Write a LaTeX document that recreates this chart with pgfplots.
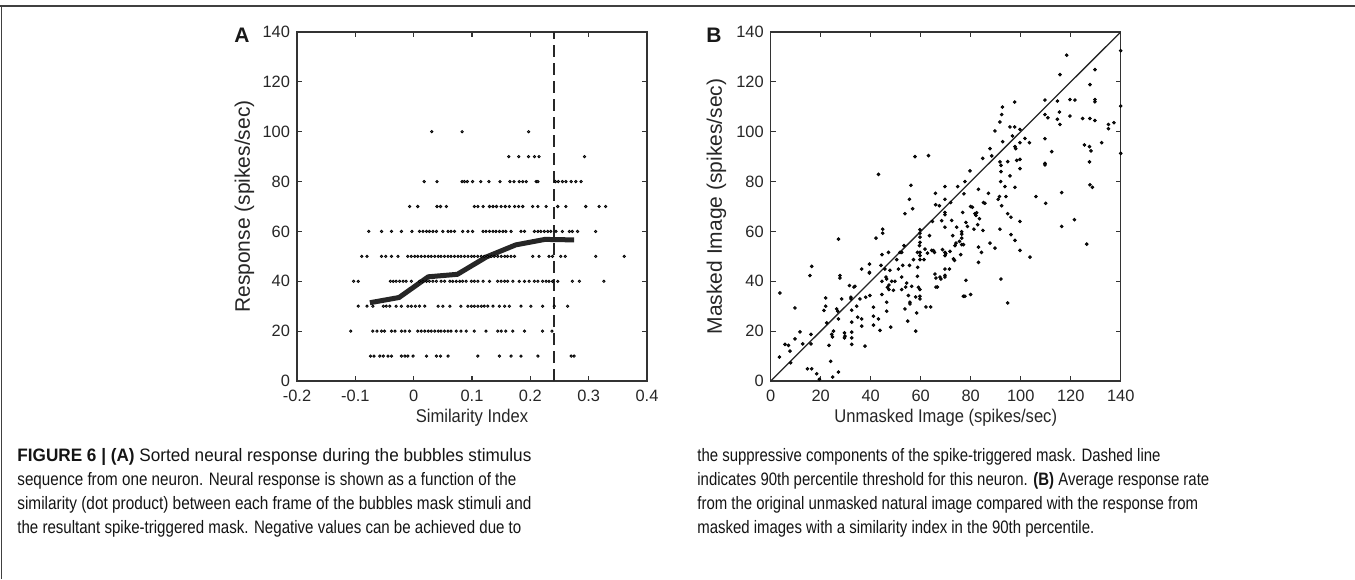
\documentclass[border=0pt]{standalone}
\usepackage{pgfplots}
\pgfplotsset{compat=1.18}
\usepackage{fontspec}
\setmainfont{Liberation Sans}
\usepackage{graphicx}
\newcommand\capw[2]{\resizebox{#1}{\height}{#2}}
\newcommand\capr[1]{\scalebox{0.83}[1]{#1}}
\pgfplotsset{
  matax/.style={
    scale only axis, width=175pt, height=174.5pt,
    axis line style={draw=black!80, line width=0.7pt},
    every tick/.style={draw=black!80, line width=0.6pt},
    major tick length=2.5pt, tick align=inside, tick pos=both,
    ticklabel style={font=\fontsize{8.2}{9}\selectfont, text=black!85},
    xticklabel style={yshift=-1.2pt},
    /pgf/number format/assume math mode=true,
    label style={text=black!85},
  }
}
\begin{document}
\begin{tikzpicture}
\useasboundingbox (0,0) rectangle (677.5pt,289.5pt);
% frame lines
\draw[black!75, line width=0.6pt] (0,286.5pt) -- (677.5pt,286.5pt);
\draw[black!75, line width=0.6pt] (0.75pt,0) -- (0.75pt,286.5pt);

% ---------- Panel A ----------
\begin{axis}[matax,
  at={(148.5pt,99pt)}, anchor=south west,
  xmin=-0.2, xmax=0.4, ymin=0, ymax=140,
  xtick={-0.2,-0.1,0,0.1,0.2,0.3,0.4},
  xticklabels={-0.2,-0.1,0,0.1,0.2,0.3,0.4},
  ytick={0,20,40,60,80,100,120,140},
  xlabel={\scalebox{0.9}[1]{Similarity Index}},
  ylabel={Response (spikes/sec)},
  xlabel style={at={(axis description cs:0.5,-0.105)}, anchor=center, font=\fontsize{9.2}{10}\selectfont},
  ylabel style={at={(axis description cs:-0.15,0.5)}, anchor=center, font=\fontsize{10.5}{12}\selectfont},
]
\addplot[only marks, mark=*, mark size=0.6pt, mark options={draw=none, fill=black!35}] coordinates {
(0.031,100)(0.083,100)(0.197,100)
(0.163,90)(0.180,90)(0.197,90)(0.207,90)(0.215,90)(0.293,90)
(0.018,80)(0.040,80)(0.083,80)(0.087,80)(0.092,80)(0.101,80)(0.115,80)(0.129,80)(0.148,80)(0.165,80)(0.172,80)(0.181,80)(0.187,80)(0.193,80)(0.210,80)(0.213,80)(0.243,80)(0.248,80)(0.255,80)(0.261,80)(0.270,80)(0.278,80)(0.287,80)
(-0.007,70)(0.007,70)(0.040,70)(0.046,70)(0.056,70)(0.104,70)(0.110,70)(0.119,70)(0.130,70)(0.136,70)(0.142,70)(0.150,70)(0.157,70)(0.164,70)(0.173,70)(0.180,70)(0.187,70)(0.204,70)(0.213,70)(0.227,70)(0.247,70)(0.261,70)(0.295,70)(0.318,70)(0.329,70)
(-0.077,60)(-0.055,60)(-0.038,60)(-0.021,60)(-0.003,60)(0.010,60)(0.016,60)(0.022,60)(0.027,60)(0.033,60)(0.039,60)(0.050,60)(0.059,60)(0.064,60)(0.070,60)(0.084,60)(0.093,60)(0.101,60)(0.119,60)(0.124,60)(0.130,60)(0.136,60)(0.141,60)(0.147,60)(0.153,60)(0.158,60)(0.167,60)(0.184,60)(0.190,60)(0.207,60)(0.213,60)(0.218,60)(0.224,60)(0.230,60)(0.235,60)(0.244,60)(0.255,60)(0.267,60)(0.272,60)(0.281,60)(0.312,60)
(-0.089,50)(-0.080,50)(-0.055,50)(-0.048,50)(-0.038,50)(-0.027,50)(-0.010,50)(-0.004,50)(0.002,50)(0.007,50)(0.013,50)(0.019,50)(0.025,50)(0.030,50)(0.036,50)(0.042,50)(0.047,50)(0.053,50)(0.059,50)(0.064,50)(0.070,50)(0.076,50)(0.081,50)(0.087,50)(0.093,50)(0.099,50)(0.104,50)(0.110,50)(0.116,50)(0.121,50)(0.127,50)(0.133,50)(0.138,50)(0.144,50)(0.150,50)(0.156,50)(0.161,50)(0.167,50)(0.173,50)(0.204,50)(0.215,50)(0.232,50)(0.238,50)(0.252,50)(0.260,50)(0.312,50)(0.361,50)
(-0.103,40)(-0.095,40)(-0.040,40)(-0.035,40)(-0.030,40)(-0.024,40)(-0.018,40)(-0.013,40)(-0.004,40)(0.010,40)(0.016,40)(0.022,40)(0.027,40)(0.033,40)(0.039,40)(0.047,40)(0.053,40)(0.062,40)(0.067,40)(0.073,40)(0.079,40)(0.084,40)(0.090,40)(0.099,40)(0.104,40)(0.110,40)(0.119,40)(0.130,40)(0.144,40)(0.150,40)(0.156,40)(0.161,40)(0.170,40)(0.181,40)(0.190,40)(0.198,40)(0.207,40)(0.213,40)(0.221,40)(0.227,40)(0.232,40)(0.238,40)(0.247,40)(0.272,40)(0.284,40)(0.326,40)
(-0.095,30)(-0.080,30)(-0.070,30)(-0.052,30)(-0.047,30)(-0.041,30)(-0.030,30)(-0.021,30)(-0.010,30)(-0.004,30)(0.003,30)(0.010,30)(0.019,30)(0.042,30)(0.050,30)(0.062,30)(0.081,30)(0.093,30)(0.099,30)(0.104,30)(0.110,30)(0.116,30)(0.121,30)(0.127,30)(0.136,30)(0.147,30)(0.156,30)(0.164,30)(0.184,30)(0.201,30)(0.221,30)(0.241,30)(0.264,30)
(-0.108,20)(-0.070,20)(-0.063,20)(-0.055,20)(-0.050,20)(-0.038,20)(-0.032,20)(-0.021,20)(-0.015,20)(-0.007,20)(0.007,20)(0.013,20)(0.019,20)(0.025,20)(0.030,20)(0.036,20)(0.042,20)(0.047,20)(0.053,20)(0.059,20)(0.064,20)(0.073,20)(0.081,20)(0.090,20)(0.104,20)(0.124,20)(0.144,20)(0.150,20)(0.158,20)(0.170,20)(0.190,20)(0.221,20)(0.237,20)
(-0.074,10)(-0.068,10)(-0.058,10)(-0.052,10)(-0.044,10)(-0.038,10)(-0.021,10)(-0.015,10)(-0.010,10)(-0.001,10)(0.022,10)(0.039,10)(0.046,10)(0.059,10)(0.110,10)(0.147,10)(0.167,10)(0.184,10)(0.213,10)(0.270,10)(0.275,10)
};
\addplot[black!85, line width=1pt, dash pattern=on 6pt off 3pt] coordinates {(0.24,0)(0.24,140)};
\addplot[black!85, line width=2.5pt, line join=round] coordinates {
(-0.075,31.4)(-0.025,33.5)(0.025,41.8)(0.075,42.8)(0.125,49.8)(0.175,54.6)(0.225,56.8)(0.275,56.6)};
\end{axis}

% ---------- Panel B ----------
\begin{axis}[matax,
  at={(385.35pt,99pt)}, anchor=south west,
  xmin=0, xmax=140, ymin=0, ymax=140,
  xtick={0,20,40,60,80,100,120,140},
  ytick={0,20,40,60,80,100,120,140},
  xlabel={\scalebox{0.9}[1]{Unmasked Image (spikes/sec)}},
  ylabel={Masked Image (spikes/sec)},
  xlabel style={at={(axis description cs:0.5,-0.105)}, anchor=center, font=\fontsize{9.2}{10}\selectfont},
  ylabel style={at={(axis description cs:-0.155,0.5)}, anchor=center, font=\fontsize{10.5}{12}\selectfont},
]
\addplot[black!85, line width=0.65pt] coordinates {(0,0)(140,140)};
\addplot[only marks, mark=*, mark size=0.7pt, mark options={draw=none, fill=black!88}] coordinates {
(3.5,9.6)(3.7,35.3)(5.7,14.7)(7.1,14.3)(7.7,12)(8,7.3)(9.7,29.3)(9.7,16.9)(11.7,19.7)(12.8,14.9)
(15.7,42.3)(16.4,46)(16.1,18.7)(16.1,14.9)(14.7,4.9)(16.4,4.9)(18.4,2.9)(19.5,0.7)(21.3,28.3)(22,33.3)
(22,30)(22.4,23.3)(23.3,14.3)(24,7.9)(24.4,18.7)(24.7,17.7)(24.8,1.6)(25.1,20)(26.4,28.9)(26.8,28)
(27.1,56.9)(27.1,24.9)(27.1,3.6)(27.7,42.3)(27.7,41.3)(28.4,32.9)(29.5,19.3)(29.7,18)(29.5,17.3)(31.5,38.3)
(32.1,33.6)(32.1,32.9)(32.4,28.4)(32.4,23.6)(32.4,19.6)(32.4,17.3)(32.4,14.7)(33.3,37.7)(33.7,38)(34.4,30)
(34.8,25.6)(35.7,32.9)(36.4,44.9)(36.4,22)(36.4,24.9)(37.7,14)(38,33.6)(39.5,46.9)(39.5,43.6)(39.5,43.3)
(39.7,34.3)(41.1,29.6)(41.1,26)(41.1,22.4)(42.1,57.3)(43.1,24.9)(43.7,20.3)(44.1,46.4)(44.5,50.7)(44.5,40)
(44.5,34.7)(44.8,60.9)(44.8,59.3)(45.7,44.9)(46.1,41.7)(46.4,40.9)(46.4,31.6)(46.4,28)(46.7,37.6)(47.1,51.6)
(47.3,38.5)(47.3,36.7)(47.7,44.4)(48,21.6)(48.4,40)(49.1,36.4)(49.7,40)(50.4,48.7)(51.1,44.9)(51.7,51.6)
(52.4,51.6)(52.4,36.7)(52.4,41.7)(52.8,46.4)(53.3,54.3)(53.7,67.1)(53.7,28.9)(54,37.7)(54.4,39.3)(54.8,24)
(55.1,34.3)(55.5,72.9)(55.5,46.4)(55.7,31.6)(55.7,30.9)(56.1,78.5)(56.4,38)(56.8,69.1)(57.1,48.7)(58,33.7)
(58,20)(58.4,27.3)(58.7,51.6)(58.7,42)(58.8,45.6)(59.1,37.6)(59.5,54.3)(59.7,60.7)(59.7,59.3)(59.7,57.7)
(59.7,55.6)(59.7,51.6)(59.7,50.3)(59.7,48.7)(59.7,36.7)(59.7,34)(59.7,32.9)(61.3,48.7)(61.7,52.9)(62.1,29.7)
(62.7,51.3)(63.5,58.3)(64,29.7)(64.4,52.4)(64.7,64)(65.1,52.3)(65.5,51.6)(65.7,42.9)(65.9,75.3)(66,70.7)
(66.1,37.7)(66.1,41.3)(66.7,37.7)(67.5,70.3)(67.7,41.7)(68.1,40.9)(68.4,64.3)(68.7,52.7)(69.7,41.7)(69.7,44.9)
(69.7,78)(69.7,72.9)(69.7,67.6)(69.7,66.7)(69.7,61.7)(69.7,51.6)(69.7,50.3)(69.7,42.4)(70,51.1)(71.5,44.9)
(71.7,52)(72,71.6)(72.4,64.4)(72.8,58.3)(73.1,49)(73.5,48.4)(73.7,54.3)(74.1,55.3)(74.4,61.7)(74.8,78)
(75.5,56)(76,50.7)(76.4,57.3)(76.4,58.9)(76.4,59.9)(76.4,54.7)(76.8,67.6)(77.1,54.7)(77.1,34)(77.3,75.1)
(77.7,34)(78.1,63.6)(78.1,40.4)(78.7,62)(80,34.7)(80,70)(80.7,69.7)(81.3,60.9)(81.7,67.1)(82.1,66.4)
(82.4,67.5)(82.8,62.7)(83.1,76.9)(83.1,53.7)(83.1,47.6)(83.5,65.1)(84.3,51.6)(84.9,60.4)(85.1,71.6)(85.7,71.3)
(87.1,75.3)(87.7,55.3)(89.7,53.3)(91,72.9)(91.5,74)(91.7,60.9)(92,80)(92.1,40.9)(92.4,70.3)(93.7,78)
(94.1,74)(94.8,67.1)(94.8,31.3)(96.1,65.7)(96.1,58.7)(97.7,56.4)(97.7,77.7)(99.7,64)(99.7,52.4)(103.7,49.7)
(106.1,74)(110,71.3)(116.4,75.6)(116.4,62)(121.5,64.7)(126.4,54.9)(127.7,78.7)(128.7,77.7)
(43.1,82.9)(57.7,90)(63.1,90.4)(77.7,80)(79.7,84.3)(84.8,89.3)(87.7,93.2)(88.4,90.3)(89.7,100.3)(91.7,87.9)
(91.7,103.9)(92.1,84)(92.1,86.5)(92.4,106.9)(92.7,109.9)(92.8,96)(94.8,88)(95.7,82.3)(95.7,101.9)(96.7,98.3)
(97.6,111.9)(97.6,101.9)(97.7,94)(98,93.2)(98.4,88.5)(99.7,100.9)(99.7,95.6)(99.7,85.2)(99.7,88.9)(101.7,97.3)
(103.5,95.6)(109.7,112.7)(109.7,106.9)(109.7,97.2)(109.7,87.3)(109.7,86.7)(110.9,105.6)(112.4,92)(114.7,112.3)(114.7,105)
(115.5,107.9)(115.7,102.9)(115.7,122.9)(118.4,130.7)(119.7,112.9)(119.7,106.3)(121.7,112.7)(124.8,105.3)(125.5,94.7)(127.5,94)
(127.5,87.9)(127.7,118.9)(127.7,105.3)(128.1,92.3)(129.7,124.9)(129.7,112.9)(129.7,112)(129.7,104.5)(132.4,95.6)(135.1,102.9)
(135.1,101.2)(137.3,103.6)(140,132.5)(140,110.3)(140,91.3)
};
\end{axis}

% panel letters
\node[font=\fontsize{10.5}{12}\selectfont\bfseries, text=black!90] at (121pt,272pt) {A};
\node[font=\fontsize{10.5}{12}\selectfont\bfseries, text=black!90] at (357pt,272pt) {B};

% caption
\begin{scope}[every node/.style={anchor=base west, inner sep=0pt, text=black!92, font=\fontsize{9}{12}\selectfont}]
\node at (8.5pt,59pt) {\capw{257pt}{\textbf{FIGURE 6 | (A)} Sorted neural response during the bubbles stimulus}};
\node at (8.5pt,47pt) {\capw{249.5pt}{sequence from one neuron. Neural response is shown as a function of the}};
\node at (8.5pt,35pt) {\capw{257pt}{similarity (dot product) between each frame of the bubbles mask stimuli and}};
\node at (8.5pt,23pt) {\capw{252pt}{the resultant spike-triggered mask. Negative values can be achieved due to}};
\node at (348.5pt,59pt) {\capr{the suppressive components of the spike-triggered mask. Dashed line}};
\node at (348.5pt,47pt) {\capr{indicates 90th percentile threshold for this neuron. \textbf{(B)} Average response rate}};
\node at (348.5pt,35pt) {\capr{from the original unmasked natural image compared with the response from}};
\node at (348.5pt,23pt) {\capr{masked images with a similarity index in the 90th percentile.}};
\end{scope}
\end{tikzpicture}
\end{document}
